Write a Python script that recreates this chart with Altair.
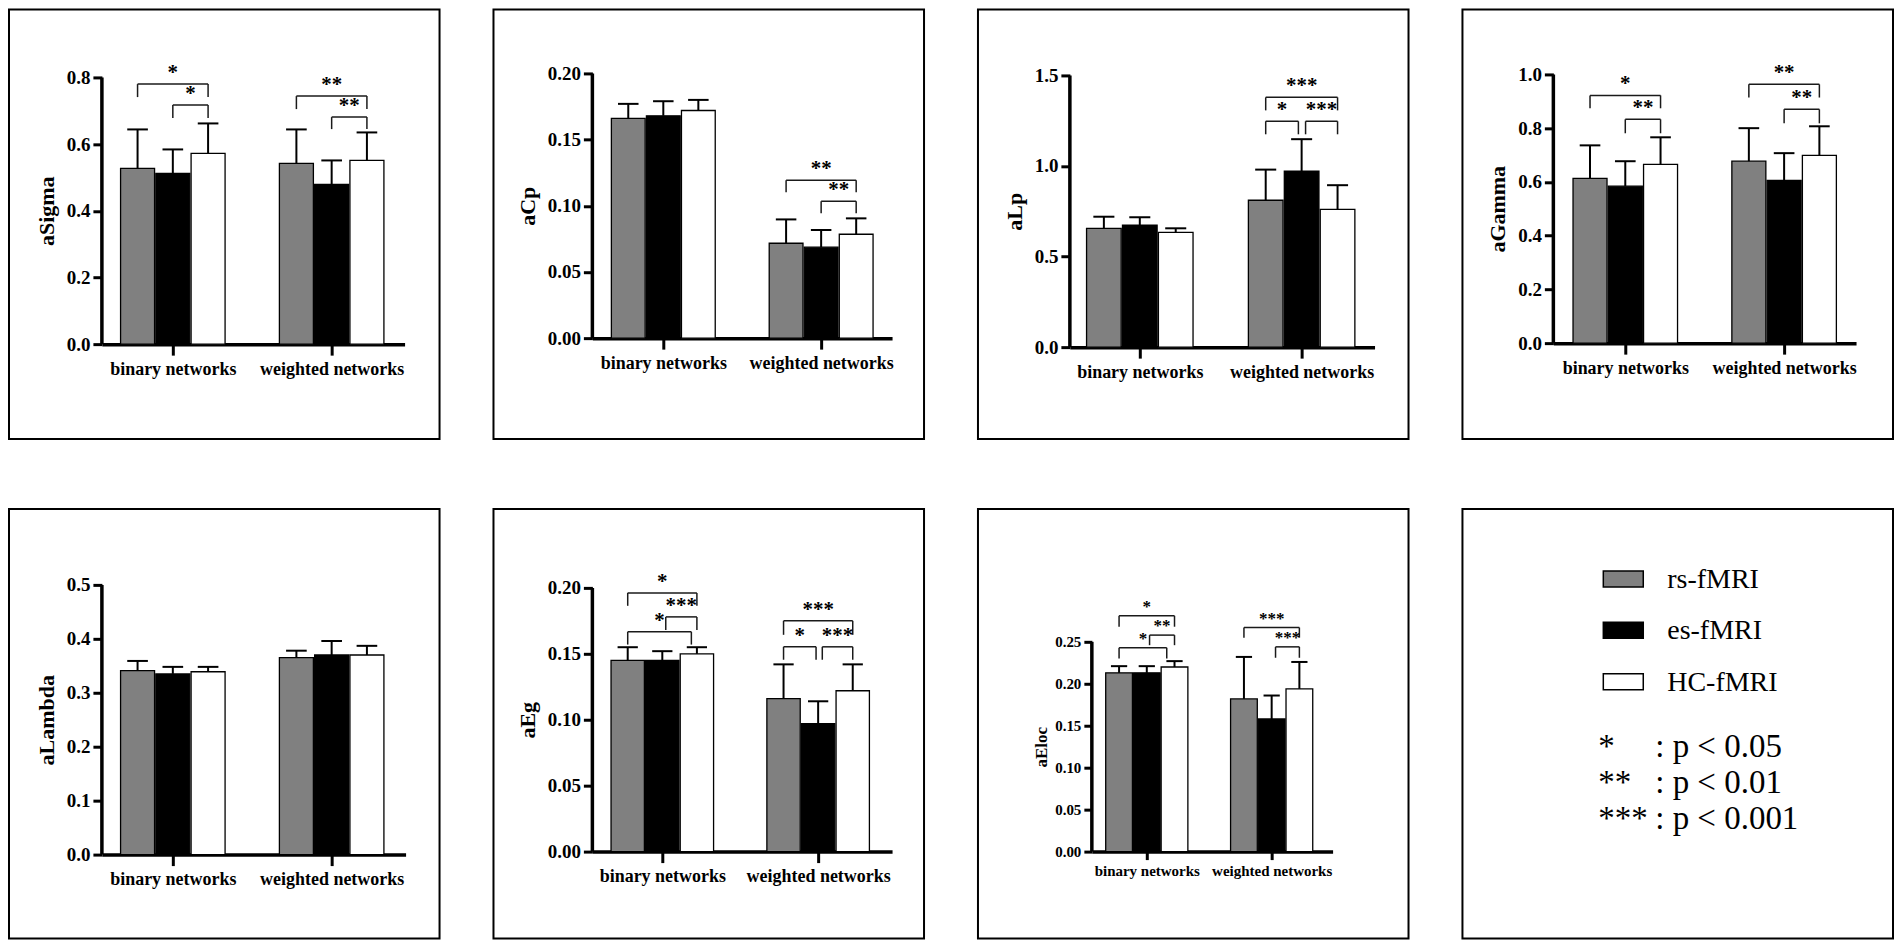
import altair as alt
import pandas as pd

groups = ["binary networks", "weighted networks"]
series = ["rs-fMRI", "es-fMRI", "HC-fMRI"]
series_fill = ["#808080", "#000000", "#ffffff"]

metrics = ["aSigma", "aCp", "aLp", "aGamma", "aLambda", "aEg", "aEloc"]

# bar means, order: binary (rs, es, HC), weighted (rs, es, HC)
mean_aSigma = [0.527, 0.512, 0.572, 0.542, 0.479, 0.551]
sd_aSigma = [0.117, 0.072, 0.090, 0.102, 0.072, 0.084]
mean_aCp = [0.166, 0.168, 0.172, 0.0717, 0.0687, 0.0785]
sd_aCp = [0.011, 0.011, 0.008, 0.018, 0.013, 0.012]
mean_aLp = [0.656, 0.673, 0.634, 0.811, 0.971, 0.761]
sd_aLp = [0.064, 0.044, 0.022, 0.169, 0.177, 0.133]
mean_aGamma = [0.613, 0.584, 0.665, 0.677, 0.606, 0.699]
sd_aGamma = [0.123, 0.093, 0.101, 0.123, 0.101, 0.108]
mean_aLambda = [0.341, 0.335, 0.339, 0.365, 0.370, 0.370]
sd_aLambda = [0.018, 0.013, 0.009, 0.013, 0.026, 0.017]
mean_aEg = [0.145, 0.145, 0.150, 0.116, 0.097, 0.122]
sd_aEg = [0.010, 0.007, 0.005, 0.026, 0.017, 0.020]
mean_aEloc = [0.213, 0.213, 0.220, 0.182, 0.158, 0.194]
sd_aEloc = [0.008, 0.008, 0.007, 0.050, 0.028, 0.032]

# significance brackets: (group, from bar slot, to bar slot, bracket top, leg end, label)
br_aSigma = [(0, 0, 2, 0.780, 0.741, "*"), (0, 1, 2, 0.717, 0.678, "*"),
             (1, 0, 2, 0.744, 0.705, "**"), (1, 1, 2, 0.681, 0.645, "**")]
br_aCp = [(1, 0, 2, 0.1192, 0.1102, "**"), (1, 1, 2, 0.1034, 0.0943, "**")]
br_aLp = [(1, 0, 2, 1.379, 1.307, "***"), (1, 0, 0.91, 1.247, 1.175, "*"),
          (1, 1.11, 2, 1.247, 1.175, "***")]
br_aGamma = [(0, 0, 2, 0.922, 0.874, "*"), (0, 1, 2, 0.833, 0.781, "**"),
             (1, 0, 2, 0.963, 0.914, "**"), (1, 1, 2, 0.870, 0.818, "**")]
br_aLambda = []
br_aEg = [(0, 0, 2, 0.1962, 0.1864, "*"), (0, 1.1, 2, 0.178, 0.168, "***"),
          (0, 0, 1.84, 0.1667, 0.157, "*"), (1, 0, 2, 0.175, 0.1644, "***"),
          (1, 0, 0.94, 0.1553, 0.1455, "*"), (1, 1.12, 2, 0.1553, 0.1455, "***")]
br_aEloc = [(0, 0, 2, 0.281, 0.268, "*"), (0, 1.1, 2, 0.258, 0.246, "**"),
            (0, 0, 1.72, 0.243, 0.230, "*"), (1, 0, 2, 0.267, 0.255, "***"),
            (1, 1.14, 2, 0.244, 0.231, "***")]

y_max = {"aSigma": 0.8, "aCp": 0.2, "aLp": 1.5, "aGamma": 1.0, "aLambda": 0.5, "aEg": 0.2, "aEloc": 0.25}
y_step = {"aSigma": 0.2, "aCp": 0.05, "aLp": 0.5, "aGamma": 0.2, "aLambda": 0.1, "aEg": 0.05, "aEloc": 0.05}

stars = ["*", "**", "***"]
p_text = [": p < 0.05", ": p < 0.01", ": p < 0.001"]

means = {"aSigma": mean_aSigma, "aCp": mean_aCp, "aLp": mean_aLp, "aGamma": mean_aGamma,
         "aLambda": mean_aLambda, "aEg": mean_aEg, "aEloc": mean_aEloc}
sds = {"aSigma": sd_aSigma, "aCp": sd_aCp, "aLp": sd_aLp, "aGamma": sd_aGamma,
       "aLambda": sd_aLambda, "aEg": sd_aEg, "aEloc": sd_aEloc}
brackets = {"aSigma": br_aSigma, "aCp": br_aCp, "aLp": br_aLp, "aGamma": br_aGamma,
            "aLambda": br_aLambda, "aEg": br_aEg, "aEloc": br_aEloc}

# layout / style per panel:
# W plot width, Ht px from 0 to top tick, e px above top tick, a px axis->first group,
# s px between groups, L box left offset
layout = {
    "aSigma": dict(W=303, Ht=267, e=4, a=71, s=159, fmt=".1f", L=-93, small=False),
    "aCp": dict(W=300, Ht=265, e=0, a=71, s=158, fmt=".2f", L=-99, small=False),
    "aLp": dict(W=305, Ht=272, e=2, a=70, s=162, fmt=".1f", L=-92, small=False),
    "aGamma": dict(W=303, Ht=269, e=1, a=72, s=159, fmt=".1f", L=-91, small=False),
    "aLambda": dict(W=304, Ht=270, e=0, a=71, s=159, fmt=".1f", L=-93, small=False),
    "aEg": dict(W=300, Ht=264, e=3, a=70, s=156, fmt=".2f", L=-99, small=False),
    "aEloc": dict(W=241, Ht=210, e=57, a=55, s=125, fmt=".2f", L=-114, small=True),
}
ROW_T = {"aSigma": 64, "aCp": 64, "aLp": 64, "aGamma": 64,
         "aLambda": 76, "aEg": 76, "aEloc": 76}
BW, BH = 431, 430
SLOT = 0.222
HALF = 0.107
CAP = 0.065
FONT = "Liberation Serif, Times New Roman, DejaVu Serif, serif"

fill_scale = alt.Scale(domain=series, range=series_fill)
label_expr = f"datum.value == 0 ? '{groups[0]}' : '{groups[1]}'"
one = pd.DataFrame({"b": [0]})


def box_layer(L, T):
    return alt.Chart(one).mark_rect(
        fillOpacity=0, stroke="black", strokeWidth=2
    ).encode(x=alt.value(L), x2=alt.value(L + BW), y=alt.value(-T), y2=alt.value(-T + BH))


def make_panel(m):
    c = layout[m]
    small = c["small"]
    lab_fs = 15 if small else 19
    xlab_fs = 15 if small else 18
    title_fs = 17 if small else 22
    star_fs = 17 if small else 21
    star_dy = -4 if small else -5
    tick = 8 if small else 9
    xtick = 8 if small else 11

    ymax = y_max[m]
    n = int(round(ymax / y_step[m]))
    ticks = [round(i * y_step[m], 4) for i in range(n + 1)]
    H = c["Ht"] + c["e"]
    dmax = ymax * H / c["Ht"]

    rows = []
    for i, (mu, sd) in enumerate(zip(means[m], sds[m])):
        rows.append({"g": i // 3, "k": i % 3, "series": series[i % 3], "mean": mu, "sd": sd})
    df = pd.DataFrame(rows)

    xdom = [-c["a"] / c["s"], (c["W"] - c["a"]) / c["s"]]
    xscale = alt.Scale(domain=xdom, nice=False, zero=False)
    yscale = alt.Scale(domain=[0, dmax], nice=False, zero=True)

    base = alt.Chart(df).transform_calculate(
        xc=f"datum.g + (datum.k - 1) * {SLOT}",
    ).transform_calculate(
        x0=f"datum.xc - {HALF}", x1=f"datum.xc + {HALF}",
        cl=f"datum.xc - {CAP}", cr=f"datum.xc + {CAP}",
        top="datum.mean + datum.sd",
    )

    bars = base.mark_bar(stroke="black", strokeWidth=1.3).encode(
        x=alt.X("x0:Q", scale=xscale, axis=alt.Axis(
            values=[0, 1], labelExpr=label_expr, title="", tickSize=xtick, tickWidth=3,
            domainWidth=3.5, labelFontSize=xlab_fs, labelPadding=5 if not small else 4,
            labelFlush=False, labelOverlap=False, grid=False)),
        x2="x1:Q",
        y=alt.Y("mean:Q", scale=yscale, axis=alt.Axis(
            values=ticks, format=c["fmt"], title=m, titleFontSize=title_fs,
            titleY=c["e"] + c["Ht"] / 2,
            titlePadding=8 if not small else 4, tickSize=tick, tickWidth=3, domain=False,
            labelFontSize=lab_fs, labelPadding=3, grid=False)),
        y2=alt.datum(0),
        fill=alt.Fill("series:N", scale=fill_scale, legend=None),
    )
    yline = alt.Chart(one).mark_rule(color="black", strokeWidth=3.5).encode(
        x=alt.value(0), y=alt.datum(0, scale=yscale), y2=alt.datum(ymax))
    stems = base.mark_rule(color="black", strokeWidth=2).encode(
        x=alt.X("xc:Q", scale=xscale),
        y=alt.Y("mean:Q", scale=yscale),
        y2="top:Q",
    )
    caps = base.mark_rule(color="black", strokeWidth=2).encode(
        x=alt.X("cl:Q", scale=xscale),
        x2="cr:Q",
        y=alt.Y("top:Q", scale=yscale),
    )
    layers = [box_layer(c["L"], ROW_T[m]), bars, stems, caps, yline]

    if brackets[m]:
        bdf = pd.DataFrame(brackets[m], columns=["g", "a", "b", "yt", "yl", "label"])
        bb = alt.Chart(bdf).transform_calculate(
            xl=f"datum.g + (datum.a - 1) * {SLOT}",
            xr=f"datum.g + (datum.b - 1) * {SLOT}",
        ).transform_calculate(xm="(datum.xl + datum.xr) / 2")
        rule_kw = dict(color="#1a1a1a", strokeWidth=1.5)
        h = bb.mark_rule(**rule_kw).encode(
            x=alt.X("xl:Q", scale=xscale), x2="xr:Q",
            y=alt.Y("yt:Q", scale=yscale))
        lleg = bb.mark_rule(**rule_kw).encode(
            x=alt.X("xl:Q", scale=xscale),
            y=alt.Y("yt:Q", scale=yscale), y2="yl:Q")
        rleg = bb.mark_rule(**rule_kw).encode(
            x=alt.X("xr:Q", scale=xscale),
            y=alt.Y("yt:Q", scale=yscale), y2="yl:Q")
        txt = bb.mark_text(font=FONT, fontWeight="bold", fontSize=star_fs, align="center",
                           baseline="alphabetic", dy=star_dy, color="black").encode(
            x=alt.X("xm:Q", scale=xscale),
            y=alt.Y("yt:Q", scale=yscale),
            text="label:N")
        layers += [h, lleg, rleg, txt]

    return alt.layer(*layers).properties(width=c["W"], height=H)


def make_legend():
    T = 76
    sdf = pd.DataFrame({"series": series})
    pdf = pd.DataFrame({"star": stars, "p": p_text})
    ys = alt.Y("series:N", sort=series, axis=None,
               scale=alt.Scale(type="point", range=[70 - T, 173 - T], padding=0))
    yp = alt.Y("star:N", sort=stars, axis=None,
               scale=alt.Scale(type="point", range=[237 - T, 309 - T], padding=0))
    sw = alt.Chart(sdf).mark_point(
        shape="M-1,-0.4L1,-0.4L1,0.4L-1,0.4Z", size=1600, filled=True, opacity=1,
        stroke="black", strokeWidth=1.5
    ).encode(x=alt.value(161), y=ys, fill=alt.Fill("series:N", scale=fill_scale, legend=None))
    st = alt.Chart(sdf).mark_text(font=FONT, fontSize=28, align="left", baseline="alphabetic",
                                  dy=9, color="black").encode(
        x=alt.value(205), y=ys, text="series:N")
    pstar = alt.Chart(pdf).mark_text(font=FONT, fontSize=33, align="left", baseline="alphabetic",
                                     dy=11, color="black").encode(
        x=alt.value(136), y=yp, text="star:N")
    ptxt = alt.Chart(pdf).mark_text(font=FONT, fontSize=33, align="left", baseline="alphabetic",
                                    dy=11, color="black").encode(
        x=alt.value(193), y=yp, text="p:N")
    box = alt.Chart(one).mark_rect(
        fillOpacity=0, stroke="black", strokeWidth=2
    ).encode(x=alt.value(0), x2=alt.value(BW), y=alt.value(-T), y2=alt.value(BH - T))
    return alt.layer(box, sw, st, pstar, ptxt).resolve_scale(y="independent").properties(
        width=BW, height=BH - T - 10)


panels = [make_panel(m) for m in metrics]
row1 = alt.hconcat(*panels[:4], spacing=52)
row2 = alt.hconcat(*panels[4:], make_legend(), spacing=52)

chart = alt.vconcat(row1, row2, spacing=68).properties(
    padding=0, background="white"
).configure_view(strokeWidth=0).configure_axis(
    labelFont=FONT, labelFontWeight="bold", labelColor="black",
    titleFont=FONT, titleFontWeight="bold", titleColor="black",
    domainColor="black", tickColor="black",
)

chart.save("out.html", embed_options={"renderer": "svg", "actions": False})
